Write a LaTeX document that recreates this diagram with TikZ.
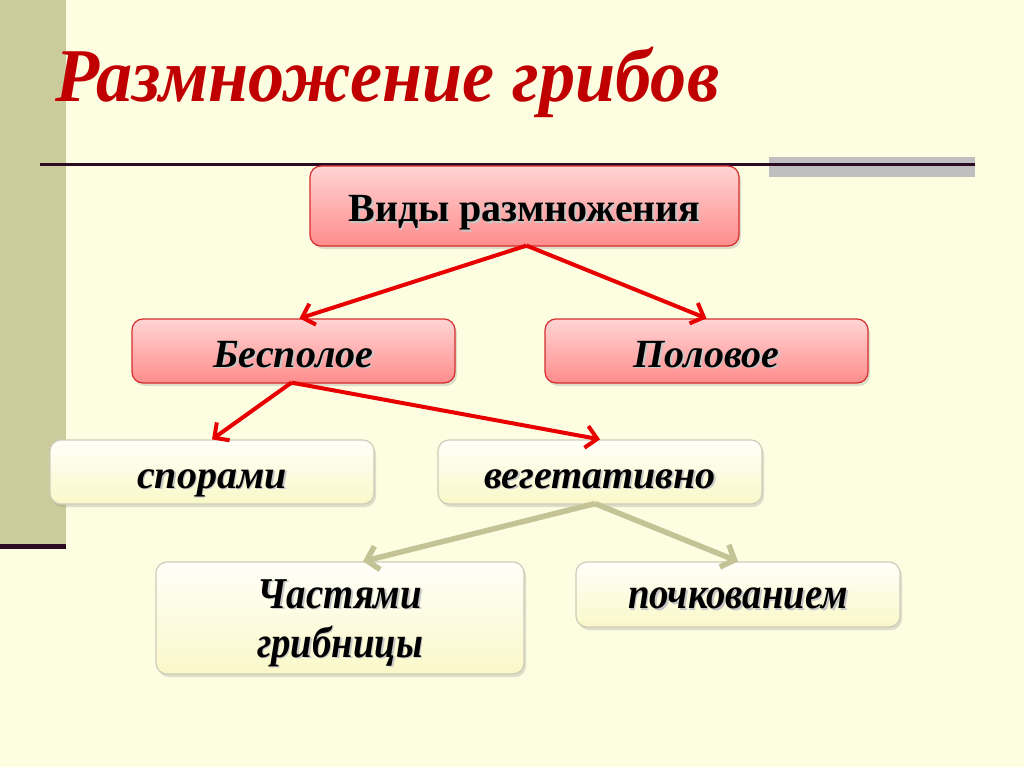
\documentclass[tikz,border=0pt]{standalone}
\usepackage{fontspec}
\setmainfont{Liberation Serif}
\newfontfamily\narrowfont[FakeStretch=0.88]{Liberation Serif}
\newfontfamily\titlefont[FakeStretch=0.95]{Liberation Serif}
\usetikzlibrary{arrows.meta,shadows}
\definecolor{bgc}{RGB}{253,253,226}
\definecolor{barc}{RGB}{203,203,155}
\definecolor{linec}{RGB}{45,10,35}
\definecolor{titlec}{RGB}{192,0,0}
\definecolor{redtop}{RGB}{255,212,212}
\definecolor{redbot}{RGB}{255,140,140}
\definecolor{redborder}{RGB}{215,45,45}
\definecolor{creamtop}{RGB}{255,255,250}
\definecolor{creambot}{RGB}{250,248,200}
\definecolor{creamborder}{RGB}{205,205,185}
\definecolor{arrred}{RGB}{232,0,0}
\definecolor{arrgreen}{RGB}{195,195,150}
\newcommand\shd[1]{\makebox[0pt][l]{\kern1.6pt\raisebox{-1.8pt}{\textcolor{black!22}{#1}}}#1}
\tikzset{
  boxbase/.style={line width=1.2pt, rounded corners=11pt, align=center, inner sep=0pt,
    text height=32pt, text depth=0pt,
    drop shadow={opacity=0.25, shadow xshift=2pt, shadow yshift=-3pt}},
  redbox/.style={boxbase, draw=redborder, top color=redtop, bottom color=redbot,
    font=\fontsize{40}{46}\selectfont\bfseries},
  redibox/.style={redbox, font=\fontsize{40}{46}\selectfont\bfseries\itshape},
  creambox/.style={boxbase, draw=creamborder, top color=creamtop, bottom color=creambot,
    font=\fontsize{40}{46}\selectfont\bfseries\itshape},
  narrowbox/.style={creambox, font=\fontsize{44}{49}\selectfont\narrowfont\bfseries\itshape},
  narrowtext/.style={inner sep=0pt, anchor=base, font=\fontsize{44}{49}\selectfont\narrowfont\bfseries\itshape},
  redarrow/.style={draw=arrred, line width=4pt,
    -{Straight Barb[length=11pt,width=22pt,line width=4pt]}},
  greenarrow/.style={draw=arrgreen, line width=5.5pt,
    -{Straight Barb[length=11pt,width=24pt,line width=5.5pt]}}
}
\begin{document}
\begin{tikzpicture}[x=1pt,y=-1pt]
\useasboundingbox (0,0) rectangle (1024,767);
\fill[bgc] (0,0) rectangle (1024,767);
\fill[barc] (0,0) rectangle (66,548);
\fill[linec] (0,544) rectangle (66,549);
\fill[black!25] (769,157) rectangle (975,177);
\draw[linec, line width=3pt] (40,165) -- (975,165);
\node[anchor=base west, inner sep=0pt, text=titlec, font=\fontsize{76}{84}\selectfont\titlefont\bfseries\itshape] (title) at (55,102) {Размножение грибов};

\node[redbox, minimum width=429pt, minimum height=80pt] (top) at (524.5,206) {\shd{Виды размножения}};
\node[redibox, minimum width=323pt, minimum height=64pt] (bes) at (293.5,351) {\shd{Бесполое}};
\node[redibox, minimum width=323pt, minimum height=64pt] (pol) at (706.5,351) {\shd{Половое}};
\node[creambox, minimum width=324pt, minimum height=64pt] (spor) at (212,472) {\shd{спорами}};
\node[creambox, minimum width=324pt, minimum height=64pt] (veg) at (600,472) {\shd{вегетативно}};
\node[creambox, minimum width=368pt, minimum height=112pt] (chast) at (340,618) {};
\node[narrowtext] (chast1) at (340,608) {\shd{Частями}};
\node[narrowtext] (chast2) at (340,657) {\shd{грибницы}};
\node[narrowbox, text height=28pt, minimum width=324pt, minimum height=65pt] (poch) at (738,594.5) {\shd{почкованием}};

\draw[redarrow] ([xshift=2pt,yshift=1pt]top.south) -- ([xshift=6pt]bes.north);
\draw[redarrow] ([xshift=2pt,yshift=1pt]top.south) -- (pol.north);
\draw[redarrow] ([xshift=-2pt,yshift=1pt]bes.south) -- (spor.north);
\draw[redarrow] ([xshift=-2pt,yshift=1pt]bes.south) -- (veg.north);
\draw[greenarrow] ([xshift=-5pt,yshift=1pt]veg.south) -- ([xshift=23pt]chast.north);
\draw[greenarrow] ([xshift=-5pt,yshift=1pt]veg.south) -- (poch.north);
\end{tikzpicture}
\end{document}
